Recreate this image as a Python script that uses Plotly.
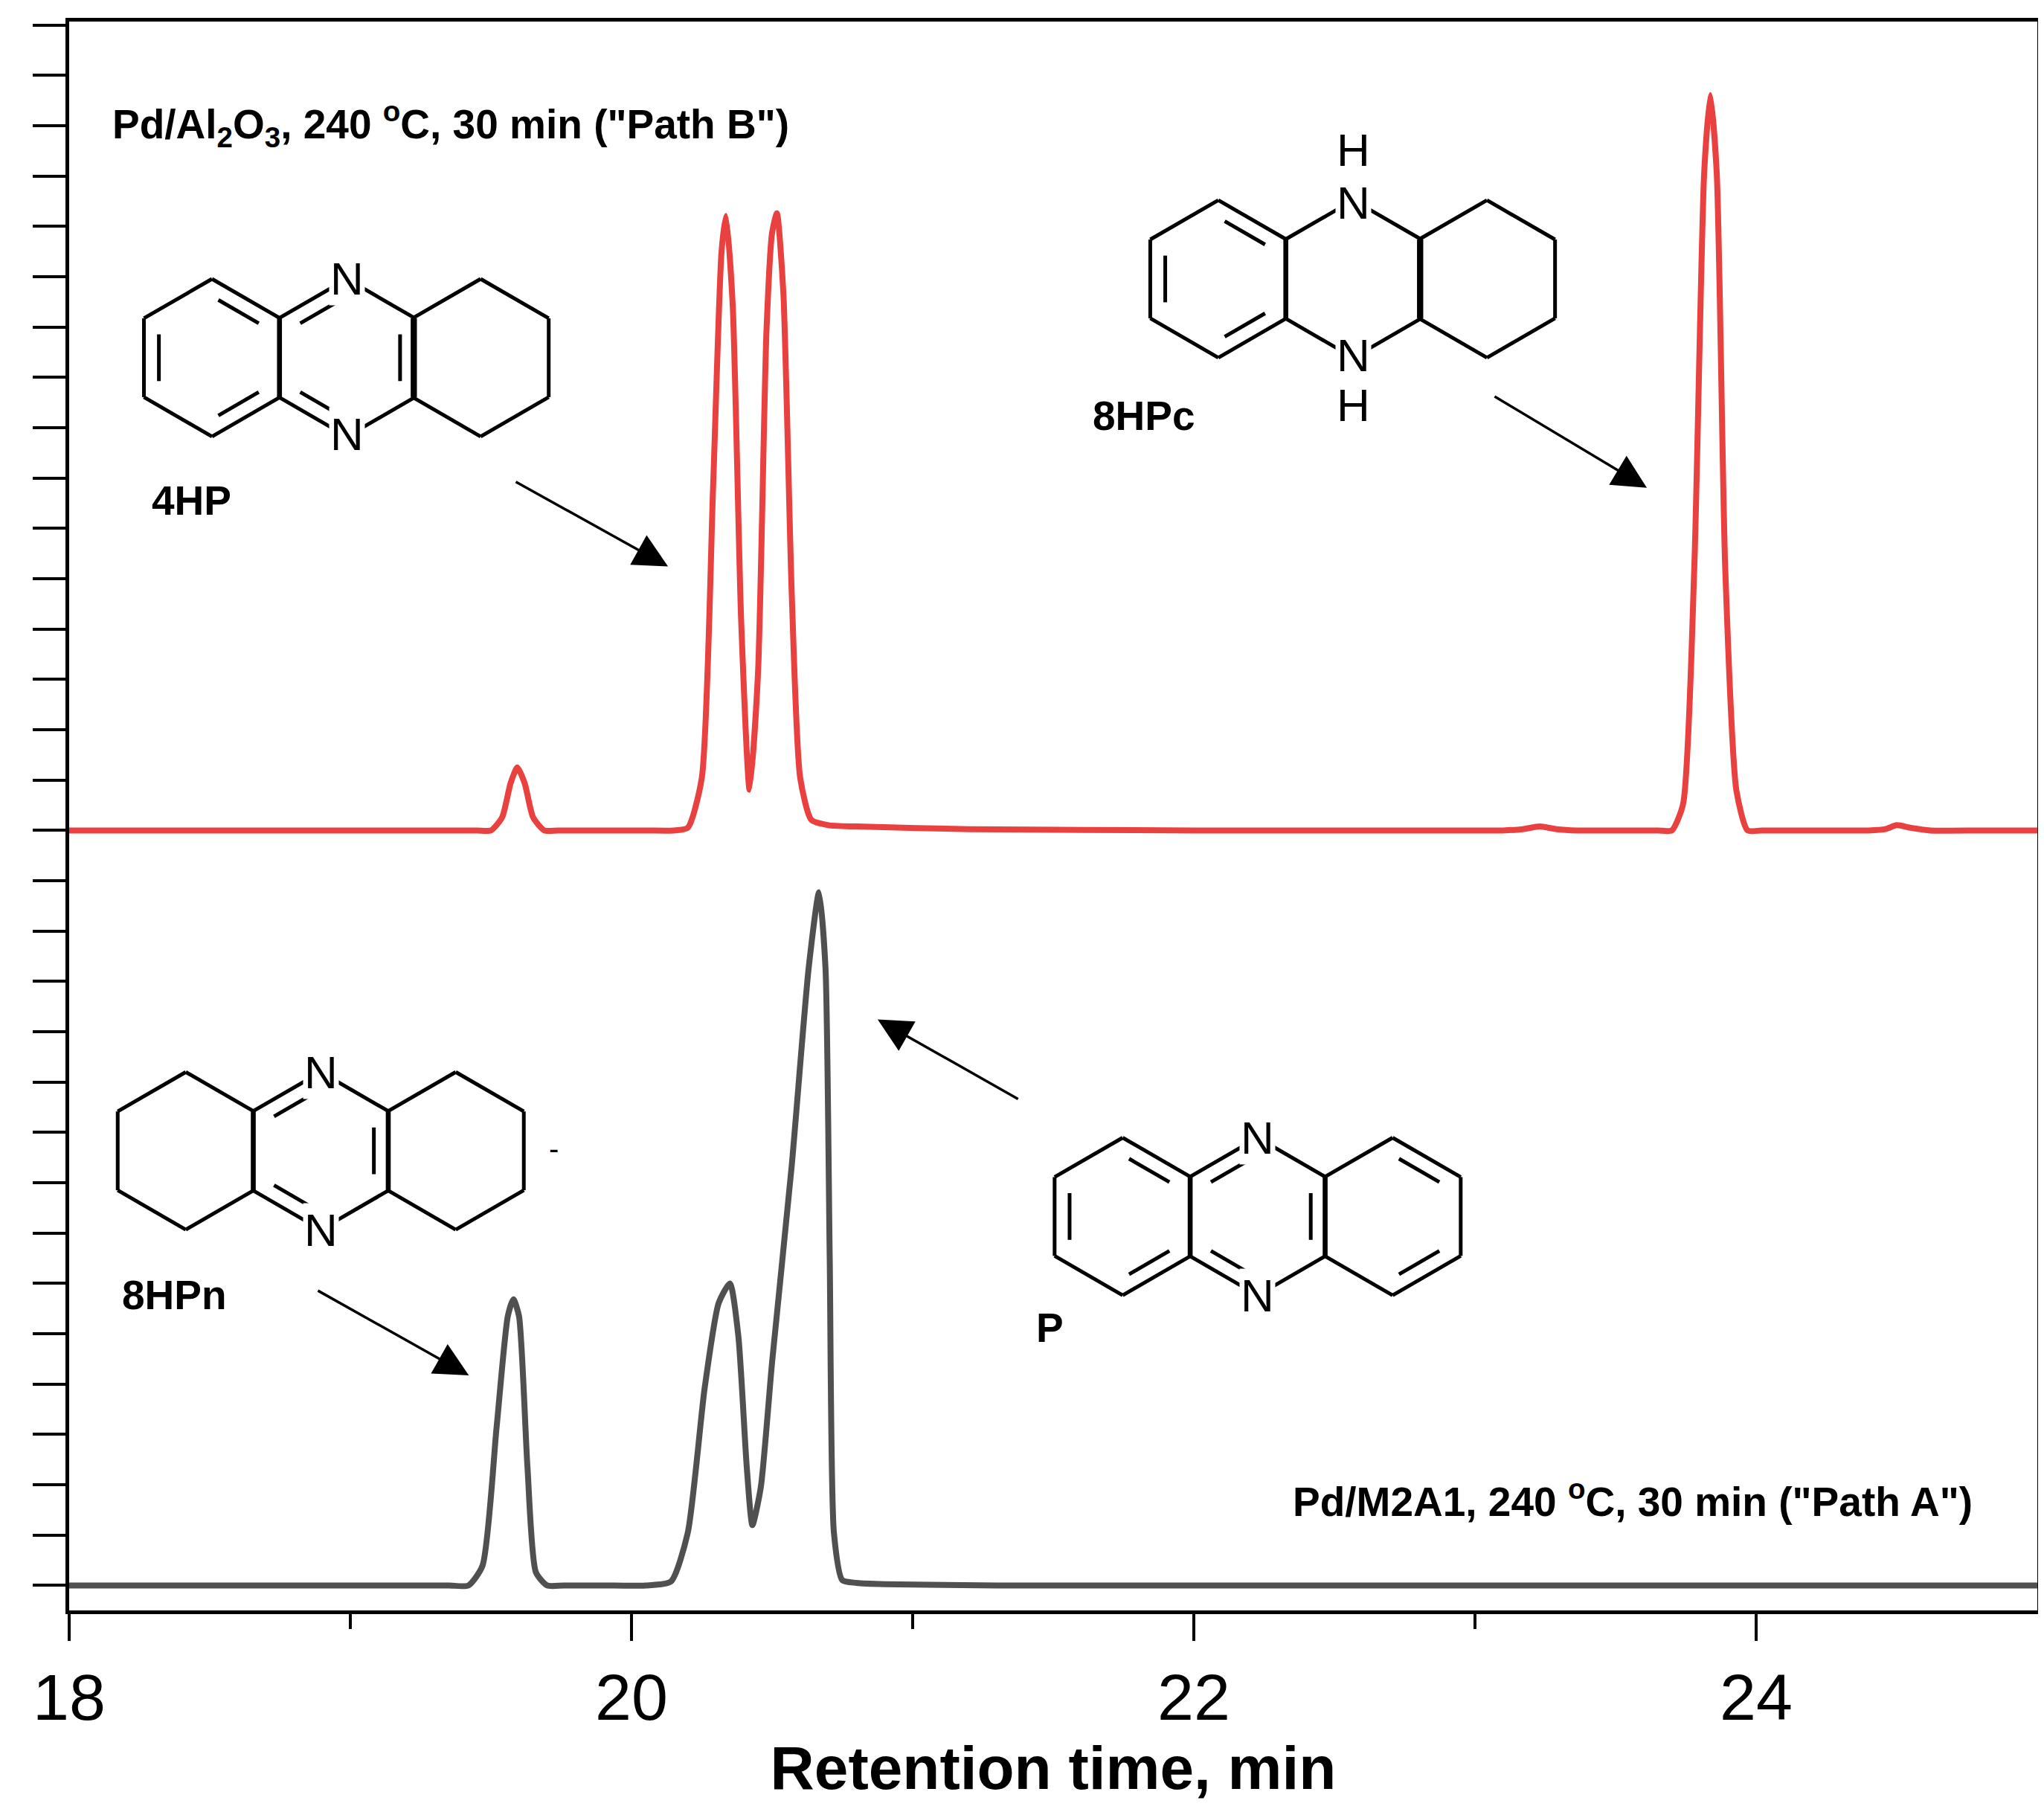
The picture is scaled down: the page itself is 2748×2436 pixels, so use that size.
import plotly.graph_objects as go

# ---- data ----
red_t = [18.0, 18.5, 19.0, 19.3, 19.45, 19.50, 19.54, 19.57, 19.594, 19.62, 19.65, 19.69, 19.74, 19.9, 20.05, 20.15, 20.20, 20.25,
         20.29, 20.32, 20.336, 20.36, 20.39, 20.42, 20.45, 20.48, 20.50, 20.517, 20.54, 20.57, 20.60, 20.64, 20.7, 20.8, 21.2, 22.0,
         22.8, 23.1, 23.17, 23.23, 23.29, 23.36, 23.5, 23.65, 23.70, 23.74, 23.78, 23.815, 23.837, 23.86, 23.89, 23.93, 23.97, 24.02,
         24.2, 24.4, 24.46, 24.50, 24.55, 24.62, 24.8, 25.0]
red_y = [0, 0, 0, 0, 0, 0, 10, 36, 48, 36, 10, 0, 0, 0, 0, 0, 2, 40,
         260, 440, 468, 400, 160, 31, 120, 380, 455, 470, 410, 180, 40, 8, 4, 3, 1, 0,
         0, 0, 1, 3, 1, 0, 0, 0, 0, 20, 200, 500, 560, 500, 200, 30, 0, 0,
         0, 0, 1, 4, 2, 0, 0, 0]
gray_t = [18.0, 18.5, 19.0, 19.2, 19.35, 19.42, 19.47, 19.52, 19.56, 19.58, 19.60, 19.63, 19.66, 19.70, 19.76, 19.9, 20.05, 20.14,
          20.20, 20.26, 20.31, 20.35, 20.38, 20.41, 20.43, 20.46, 20.50, 20.57, 20.63, 20.667, 20.69, 20.705, 20.72, 20.75, 20.8,
          20.9, 21.3, 22.0, 23.0, 24.0, 25.0]
gray_y = [0, 0, 0, 0, 0, 0, 15, 120, 205, 218, 205, 90, 10, 0, 0, 0, 0, 3,
          40, 150, 215, 230, 190, 90, 46, 75, 170, 320, 470, 528, 470, 250, 40, 4, 2,
          1, 0, 0, 0, 0, 0]
red_offset = 575
x_ticks = [18, 20, 22, 24]
label_top = 'Pd/Al<sub>2</sub>O<sub>3</sub>, 240 <sup>o</sup>C, 30 min ("Path B")'
label_bot = 'Pd/M2A1, 240 <sup>o</sup>C, 30 min ("Path A")'

FONT = "Liberation Sans"
fig = go.Figure()
fig.add_trace(go.Scatter(x=gray_t, y=gray_y, mode="lines", line=dict(color="#505050", width=8, shape="spline", smoothing=0.6)))
fig.add_trace(go.Scatter(x=red_t, y=[v + red_offset for v in red_y], mode="lines",
                         line=dict(color="#e8413f", width=8, shape="spline", smoothing=0.6)))

# display px -> plot-domain coords
def P(px, py):
    return ((px - 48) / (1550 - 48), (1222 - py) / (1222 - 12))

XR, YR = "x domain", "y domain"
shapes = []
R = 60
def hexv(cx, cy):
    a = 0.866 * R
    return [(cx, cy - R), (cx + a, cy - R / 2), (cx + a, cy + R / 2), (cx, cy + R), (cx - a, cy + R / 2), (cx - a, cy - R / 2)]

def line(p, q, w=5):
    x0, y0 = P(*p); x1, y1 = P(*q)
    shapes.append(dict(type="line", xref=XR, yref=YR, x0=x0, y0=y0, x1=x1, y1=y1,
                       line=dict(color="black", width=w)))

def ring(cx, cy, inner=()):
    v = hexv(cx, cy)
    for i in range(6):
        line(v[i], v[(i + 1) % 6])
    for (i, j) in inner:
        a = [cx + 0.78 * (v[i][0] - cx), cy + 0.78 * (v[i][1] - cy)]
        b = [cx + 0.78 * (v[j][0] - cx), cy + 0.78 * (v[j][1] - cy)]
        a2 = (a[0] + 0.12 * (b[0] - a[0]), a[1] + 0.12 * (b[1] - a[1]))
        b2 = (b[0] + 0.12 * (a[0] - b[0]), b[1] + 0.12 * (a[1] - b[1]))
        line(a2, b2)

arom = [(0, 1), (2, 3), (4, 5)]
pyr = [(5, 0), (1, 2), (3, 4)]
ring(157, 268, arom); ring(260, 268, pyr); ring(362, 268)
ring(925, 208, arom); ring(1028, 208); ring(1130, 208)
ring(137, 872); ring(240, 872, pyr); ring(343, 872)
ring(852, 922, arom); ring(955, 922, pyr); ring(1058, 922, [(0, 1), (2, 3)])

ann = []
def txt(px, py, s, size=62, bold=False, bg=None, xanchor="center"):
    x, y = P(px, py)
    ann.append(dict(x=x, y=y, xref=XR, yref=YR, text=("<b>%s</b>" % s) if bold else s, showarrow=False,
                    font=dict(family=FONT, size=size, color="black"), xanchor=xanchor, yanchor="middle",
                    bgcolor=bg))

for (px, py) in [(260, 208), (260, 326), (1028, 150), (1028, 266), (240, 812), (240, 932), (955, 862), (955, 982)]:
    txt(px, py, "N", bg="white")
txt(1028, 110, "H"); txt(1028, 304, "H")
txt(418, 870, "-", size=40)
txt(80, 90, label_top, size=55, bold=True, xanchor="left")
txt(1502, 1137, label_bot, size=55, bold=True, xanchor="right")
txt(110, 377, "4HP", size=55, bold=True, xanchor="left")
txt(828, 312, "8HPc", size=55, bold=True, xanchor="left")
txt(87, 982, "8HPn", size=55, bold=True, xanchor="left")
txt(785, 1007, "P", size=55, bold=True, xanchor="left")

def arrow(p0, p1):
    x0, y0 = P(*p0); x1, y1 = P(*p1)
    ann.append(dict(x=x1, y=y1, ax=x0, ay=y0, xref=XR, yref=YR, axref=XR, ayref=YR,
                    showarrow=True, arrowhead=2, arrowsize=2.6, arrowwidth=3.5, arrowcolor="black", text=""))
arrow((388, 362), (505, 427))
arrow((1135, 297), (1252, 367))
arrow((237, 978), (353, 1043))
arrow((773, 833), (665, 772))

fig.update_layout(
    width=2748, height=2436, paper_bgcolor="white", plot_bgcolor="white", showlegend=False,
    margin=dict(l=85, r=17, t=21, b=279), shapes=shapes, annotations=ann,
    font=dict(family=FONT, color="black"),
    xaxis=dict(range=[18, 25], tickvals=x_ticks, ticks="outside", ticklen=36, tickwidth=4, tickcolor="black",
               tickfont=dict(size=88, family=FONT), showgrid=False, zeroline=False,
               showline=True, linewidth=5, linecolor="black", mirror=True,
               minor=dict(tickvals=[19, 21, 23], ticks="outside", ticklen=20, tickwidth=4, tickcolor="black"),
               title=dict(text="<b>Retention time, min</b>", font=dict(size=82, family=FONT), standoff=10)),
    yaxis=dict(range=[-19, 1191], tick0=0, dtick=575 / 15, ticks="outside", ticklen=44, tickwidth=4, tickcolor="black",
               showticklabels=False, showgrid=False, zeroline=False,
               showline=True, linewidth=5, linecolor="black", mirror=True),
)
fig.write_html("out.html")
